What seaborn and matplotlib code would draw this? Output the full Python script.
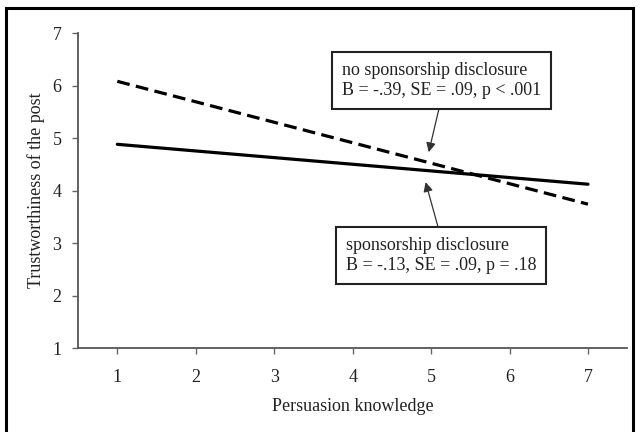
import matplotlib
matplotlib.use("Agg")
import matplotlib.pyplot as plt
import seaborn as sns
import pandas as pd
from matplotlib.patches import Rectangle

# Data
x_vals = [1, 7]
no_disclosure = [6.08, 3.74]
disclosure = [4.88, 4.12]
conditions = ["no sponsorship disclosure", "sponsorship disclosure"]
x_ticks = [1, 2, 3, 4, 5, 6, 7]
y_ticks = [1, 2, 3, 4, 5, 6, 7]
box_top_text = "no sponsorship disclosure\nB = -.39, SE = .09, p < .001"
box_bot_text = "sponsorship disclosure\nB = -.13, SE = .09, p = .18"

df = pd.DataFrame({
    "x": x_vals + x_vals,
    "y": no_disclosure + disclosure,
    "cond": [conditions[0]] * 2 + [conditions[1]] * 2,
})

sns.set_style("white")
plt.rcParams["font.family"] = ["Liberation Serif", "DejaVu Serif"]

fig = plt.figure(figsize=(6.4, 4.32), dpi=100)
ax = fig.add_axes([0.122, 0.1944, 0.858, 0.7292])

sns.lineplot(data=df, x="x", y="y", hue="cond", style="cond",
             palette={conditions[0]: "black", conditions[1]: "black"},
             dashes={conditions[0]: (4, 2), conditions[1]: ""},
             linewidth=2.3, legend=False, ax=ax)

ax.set_xlim(0.5, 7.5)
ax.set_ylim(1, 7)
ax.set_xticks(x_ticks)
ax.set_yticks(y_ticks)
ax.tick_params(axis="both", direction="out", length=4, width=1, color="#666666",
               labelsize=13, pad=11, bottom=True, left=True, labelcolor="#222222")
ax.tick_params(axis="y", pad=8)
for s in ["top", "right"]:
    ax.spines[s].set_visible(False)
for s in ["left", "bottom"]:
    ax.spines[s].set_color("#555555")
    ax.spines[s].set_linewidth(1.3)

ax.set_xlabel("Persuasion knowledge", fontsize=13, labelpad=9, color="#222222")
ax.set_ylabel("Trustworthiness of the post", fontsize=13, labelpad=5, color="#222222")

bbox = dict(boxstyle="square,pad=0.55", fc="white", ec="#222222", lw=1.5)
ax.annotate(box_top_text, xy=(4.97, 4.73), xytext=(3.86, 6.10),
            fontsize=13, ha="left", va="center", bbox=bbox, linespacing=1.25,
            color="#222222",
            arrowprops=dict(arrowstyle="-|>", color="#333333", lw=0.9,
                            mutation_scale=14, shrinkA=0, shrinkB=0,
                            relpos=(0.5, 0.0)))
ax.annotate(box_bot_text, xy=(4.93, 4.16), xytext=(3.91, 2.76),
            fontsize=13, ha="left", va="center", bbox=bbox, linespacing=1.25,
            color="#222222",
            arrowprops=dict(arrowstyle="-|>", color="#333333", lw=0.9,
                            mutation_scale=14, shrinkA=0, shrinkB=0,
                            relpos=(0.5, 1.0)))

fig.patches.append(Rectangle((0.009, -0.01), 0.980, 0.991, transform=fig.transFigure,
                             fill=False, ec="black", lw=2.2))

fig.savefig("out.png", dpi=100)
